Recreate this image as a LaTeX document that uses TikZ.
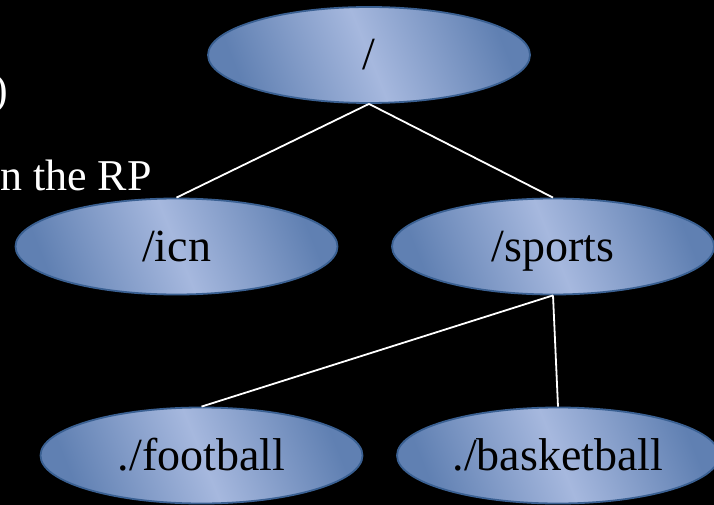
\documentclass[tikz,border=0pt]{standalone}
\usepackage{fontspec}
\setmainfont{Liberation Serif}
\usepackage{tikz}
\usetikzlibrary{shapes.geometric,calc,positioning}
\definecolor{dirdark}{RGB}{96,128,178}
\definecolor{dirlight}{RGB}{166,184,222}
\definecolor{dirborder}{RGB}{58,96,146}
\tikzstyle{dirnode} = [ellipse, minimum width=322pt, minimum height=96pt, inner sep=0pt, text centered, text height=39pt, text depth=9pt, draw=dirborder, line width=1.8pt, left color=dirdark, right color=dirdark, middle color=dirlight, shading angle=112, font=\fontsize{46}{50}\selectfont, text=black]
\tikzstyle{slidetext} = [inner sep=0pt, text=white, font=\fontsize{44}{48}\selectfont]
\tikzstyle{link} = [white, line width=1.8pt]

\begin{document}
\begin{tikzpicture}[node distance=191.5pt]

\fill[black] (0,0) rectangle (714pt,-505pt);
\useasboundingbox (0,0) rectangle (714pt,-505pt);
\clip (0,0) rectangle (714pt,-505pt);

\node (paren) [slidetext, anchor=base east] at (8pt,-105pt) {)};
\node (rptext) [slidetext, anchor=base east] at (152pt,-190pt) {n the RP};
%
\node (root) [dirnode] at (369pt,-55pt) {/};
\node (icn) [dirnode, below of=root, xshift=-192.5pt] {/icn};
\node (sports) [dirnode, right of=icn, xshift=185pt] {/sports};
\node (football) [dirnode, below of=icn, xshift=25pt, yshift=-17.5pt] {./football};
\node (basketball) [dirnode, below of=sports, xshift=5pt, yshift=-17.5pt] {./basketball};

\draw [link] (root.south) -- (icn.north);
\draw [link] (root.south) -- (sports.north);
\draw [link] (sports.south) -- (football.north);
\draw [link] (sports.south) -- (basketball.north);

\end{tikzpicture}
\end{document}
